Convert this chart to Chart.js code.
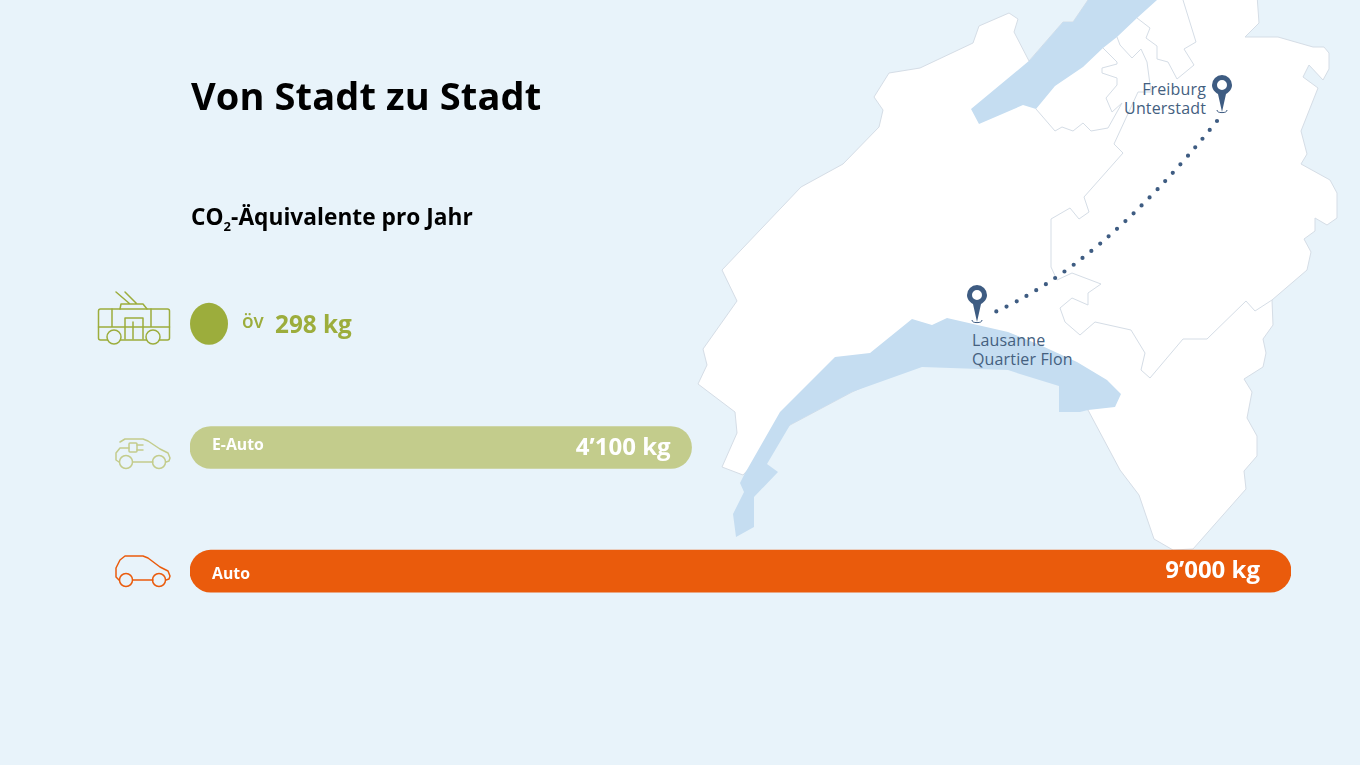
<!DOCTYPE html>
<html lang="de">
<head>
<meta charset="utf-8">
<title>Von Stadt zu Stadt</title>
<script src="https://cdn.jsdelivr.net/npm/chart.js@4"></script>
<style>
  html, body { margin: 0; padding: 0; background: #e8f3fa; }
  body { position: relative; width: 1360px; height: 765px; overflow: hidden; font-family: "Open Sans", sans-serif; }
  #map, #chart { position: absolute; left: 0; top: 0; }
  h1, h2 { position: absolute; left: 191px; margin: 0; color: #000; white-space: nowrap; }
  h1 { top: 69px; font-size: 38px; line-height: 52px; font-weight: 700; letter-spacing: 0.12px; }
  h2 { top: 201px; font-size: 22.7px; line-height: 31px; font-weight: 700; letter-spacing: 0.03px; }
  h2 sub { font-size: 13px; line-height: 0; vertical-align: -6px; }
  .border { fill: none; stroke: #d5dde6; stroke-width: 1; stroke-linejoin: round; }
  .place { font-size: 16px; letter-spacing: 0.15px; fill: #44607f; }
  .icon { fill: none; stroke-width: 1.5; stroke-linejoin: round; stroke-linecap: round; }
</style>
</head>
<body>
<!-- background map and vehicle icons -->
<svg id="map" width="1360" height="765" viewBox="0 0 1360 765">
  <polygon points="722,270 801,187 843,164 879,127 883,110 874,97 889,73 920,68 973,43 979,26 1009,13 1018,19 1014,32 1029,61 1063,22 1073,22 1088,0 1157,-5 1257,-5 1259,23 1245,37 1278,37 1313,47 1324,47 1329,53 1329,69 1323,80 1309,65 1303,77 1318,88 1301,131 1307,154 1301,164 1330,180 1337,193 1337,218 1327,225 1315,218 1315,231 1304,239 1311,252 1307,270 1272,300 1273,325 1263,339 1266,353 1263,367 1244,379 1252,392 1247,418 1257,436 1257,456 1244,471 1246,489 1193,549 1173,550 1154,539 1139,495 1120,470 1088,410 1065,400 1059,380 1008,360 922,360 852,392 790,425 743,475 722,467 737,433 735,412 698,384 707,365 703,349 737,301" fill="#fff" stroke="#d5dde6"/>
  <polyline class="border" points="1183,0 1196,42 1184,49 1194,65 1177,79 1168,62 1157,59 1157,46 1146,38 1150,28 1137,18"/>
  <polyline class="border" points="1117,37 1120,45 1132,58 1141,49 1147,62 1151,92 1138,92 1114,144 1123,153 1084,197 1089,212 1079,219 1070,208 1051,219 1051,267 1057,280 1072,273 1101,284 1088,293 1088,305 1072,298 1060,308 1065,322 1080,335 1095,322 1131,330 1145,353 1141,370 1150,378 1183,339 1207,339 1246,301 1255,311 1272,300"/>
  <polyline class="border" points="1103,48 1117,62 1117,64 1102,68 1102,73 1117,78 1117,85 1106,98 1112,112 1122,103 1108,128 1091,131 1083,123 1073,131 1062,127 1055,131 1036,109"/>
  <!-- lakes -->
  <polygon fill="#c5ddf1" points="1030,60 1063,22 1073,22 1088,0 1157,0 1137,18 1117,37 1103,48 1083,67 1055,86 1036,109 1023,105 979,124 971,109"/>
  <polygon fill="#c5ddf1" points="740,483 744,475 780,412 835,357 870,353 912,319 932,325 947,318 1008,332 1040,345 1077,362 1107,380 1121,394 1115,407 1088,410 1080,412 1059,412 1059,386 1020,374 1008,370 922,367 852,392 790,425 767,464 778,472 754,497 754,527 736,537 733,514 744,492"/>
  <!-- route -->
  <path d="M1217 121 Q1098 269 988 315" fill="none" stroke="#3e5c82" stroke-width="4.2" stroke-linecap="round" stroke-dasharray="0 11.3"/>
  <!-- pins -->
  <g fill="#3e5c82">
    <path fill-rule="evenodd" d="M1212 85 a10 10 0 1 1 20 0 c0 4 -2.5 7 -6 9 l-4 18 l-4 -18 c-3.5 -2 -6 -5 -6 -9 z M1217 85 a5 5 0 1 0 10 0 a5 5 0 1 0 -10 0 z"/>
    <path d="M1217 110 a5 2.6 0 0 0 10 0" fill="none" stroke="#3e5c82" stroke-width="1"/>
  </g>
  <g fill="#3e5c82" transform="translate(-245 210)">
    <path fill-rule="evenodd" d="M1212 85 a10 10 0 1 1 20 0 c0 4 -2.5 7 -6 9 l-4 18 l-4 -18 c-3.5 -2 -6 -5 -6 -9 z M1217 85 a5 5 0 1 0 10 0 a5 5 0 1 0 -10 0 z"/>
    <path d="M1217 110 a5 2.6 0 0 0 10 0" fill="none" stroke="#3e5c82" stroke-width="1"/>
  </g>
  <text class="place" x="1206" y="95" text-anchor="end">Freiburg</text>
  <text class="place" x="1206" y="114" text-anchor="end">Unterstadt</text>
  <text class="place" x="972" y="346">Lausanne</text>
  <text class="place" x="972" y="365">Quartier Flon</text>
  <!-- trolleybus -->
  <g class="icon" stroke="#9cad3c">
    <rect x="98.5" y="309" width="71" height="31" rx="2"/>
    <path d="M98.5 327 H169.5 M112 309 V327 M151 309 V327 M125 339 V318 H143 V339 M133 322 V339 M120 309 L121 304 H143 L147 309 M116 292 L130 304 M125 292 L137 304"/>
    <circle cx="114" cy="337" r="7" fill="#e8f3fa"/>
    <circle cx="153" cy="337" r="7" fill="#e8f3fa"/>
  </g>
  <!-- e-car -->
  <g class="icon" stroke="#c3cc8c">
    <path d="M119 462 L116 460 V453 L120 448 H129 M120 442 L125 439 H143 L148 441 L160 449 L168 453 L170 458 L169 461 L166 462 M133 462 H153"/>
    <rect x="129" y="443" width="8" height="9" rx="1"/>
    <path d="M137 445 H143 M137 450 H143"/>
    <circle cx="126" cy="462" r="6.5"/>
    <circle cx="159" cy="462" r="6.5"/>
  </g>
  <!-- car -->
  <g class="icon" stroke="#ea5b0c">
    <path d="M119 580 L116 577 V568 L120 560 L125 556 H143 L148 558 L160 567 L168 571 L170 576 L169 579 L166 580 M133 580 H153"/>
    <circle cx="126" cy="580" r="6.5"/>
    <circle cx="159" cy="580" r="6.5"/>
  </g>
</svg>

<canvas id="chart" width="1360" height="765"></canvas>

<h1>Von Stadt zu Stadt</h1>
<h2>CO<sub>2</sub>-Äquivalente pro Jahr</h2>

<script>
// Data
const categories = ['öv', 'E-Auto', 'Auto'];
const co2Values = [298, 4100, 9000];
const valueLabels = ['298 kg', '4’100 kg', '9’000 kg'];
const barColors = ['#9cad3c', '#c3cc8c', '#ea5b0c'];

const FONT = '"Open Sans", sans-serif';

// The short öv bar is an ellipse in the original, not a rounded box
const ovEllipse = {
  id: 'ovEllipse',
  beforeDatasetsDraw(chart) {
    const bar = chart.getDatasetMeta(0).data[0];
    bar.draw = function (ctx) {
      const rx = (this.x - this.base) / 2;
      ctx.save();
      ctx.fillStyle = this.options.backgroundColor;
      ctx.beginPath();
      ctx.ellipse(this.base + rx, this.y, rx, this.height / 2, 0, 0, Math.PI * 2);
      ctx.fill();
      ctx.restore();
    };
  }
};

// Writes the category name and the value on or next to each bar
const barLabels = {
  id: 'barLabels',
  afterDatasetsDraw(chart) {
    const ctx = chart.ctx;
    const bars = chart.getDatasetMeta(0).data;
    ctx.save();
    ctx.textBaseline = 'alphabetic';

    // öv is too short to hold its text
    const ov = bars[0];
    ctx.fillStyle = barColors[0];
    ctx.textAlign = 'left';
    ctx.font = '600 19px ' + FONT;
    ctx.fillText(categories[0], ov.x + 14, ov.y + 4);
    ctx.font = '700 24.3px ' + FONT;
    ctx.fillText(valueLabels[0], ov.x + 47, ov.y + 9);

    // the other two are labelled inside the bar
    ctx.fillStyle = '#fff';
    const nameShift = [0, 2, 8];
    const valueInset = [0, 21, 31];
    [1, 2].forEach(i => {
      const bar = bars[i];
      ctx.textAlign = 'left';
      ctx.font = '700 15.8px ' + FONT;
      ctx.fillText(categories[i], bar.base + 22, bar.y + nameShift[i]);
      ctx.textAlign = 'right';
      ctx.font = '700 24px ' + FONT;
      ctx.fillText(valueLabels[i], bar.x - valueInset[i], bar.y + 7);
    });
    ctx.restore();
  }
};

new Chart(document.getElementById('chart'), {
  type: 'bar',
  data: {
    labels: categories,
    datasets: [{
      data: co2Values,
      backgroundColor: barColors,
      borderRadius: 21,
      borderSkipped: false,
      barThickness: 42,
      minBarLength: 38
    }]
  },
  options: {
    indexAxis: 'y',
    responsive: false,
    animation: false,
    layout: { padding: { left: 190, right: 69, top: 262, bottom: 132 } },
    plugins: { legend: { display: false }, tooltip: { enabled: false } },
    scales: {
      x: { display: false, min: 0, max: 9000 },
      y: { display: false }
    }
  },
  plugins: [ovEllipse, barLabels]
});
</script>
</body>
</html>
